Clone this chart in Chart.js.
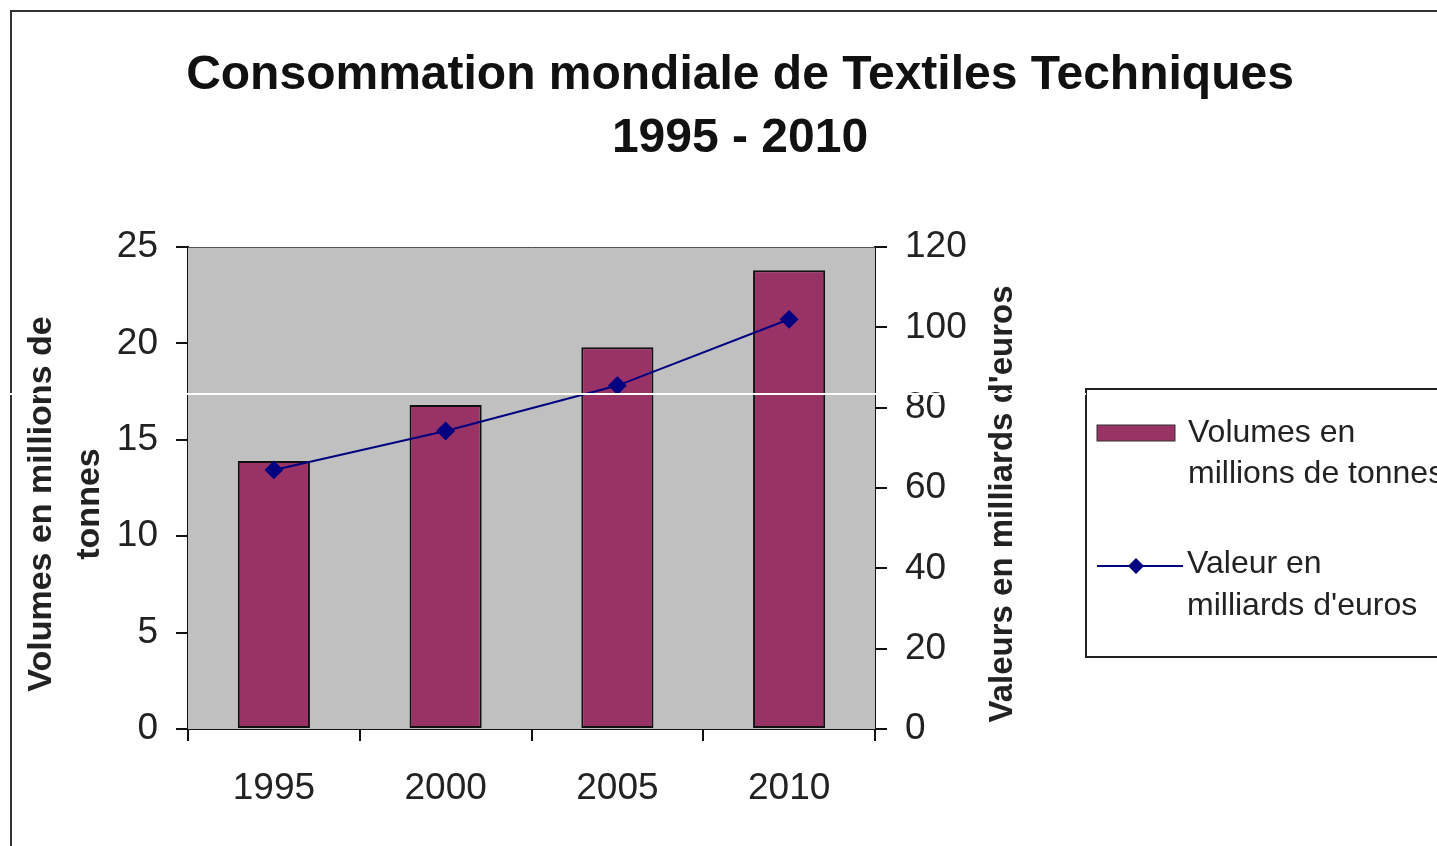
<!DOCTYPE html>
<html>
<head>
<meta charset="utf-8">
<script src="https://cdn.jsdelivr.net/npm/chart.js@4.4.1/dist/chart.umd.min.js"></script>
<style>
  html, body { margin: 0; padding: 0; background: #fff; overflow: hidden; }
  #wrap { position: relative; width: 1437px; height: 846px; }
</style>
</head>
<body>
<div id="wrap"><canvas id="myChart" width="1437" height="846"></canvas></div>
<script>
const years = ['1995', '2000', '2005', '2010'];
const volumes = [13.9, 16.8, 19.8, 23.8];       // millions de tonnes
const valeurs = [64.5, 74.2, 85.5, 102];        // milliards d'euros
const leftTicks = [0, 5, 10, 15, 20, 25];
const rightTicks = [0, 20, 40, 60, 80, 100, 120];
const titleLines = ['Consommation mondiale de Textiles Techniques', '1995 - 2010'];
const leftTitle = ['Volumes en millions de', 'tonnes'];
const rightTitle = "Valeurs en milliards d'euros";

const FONT = '"Liberation Sans", Arial, sans-serif';
const BAR_COLOR = '#993366';
const LINE_COLOR = '#000080';

// fond gris de la zone de tracé, titres, cadre et légende
const decor = {
    id: 'decor',
    beforeDatasetsDraw(chart) {
        const {ctx, chartArea: a} = chart;
        ctx.save();
        ctx.fillStyle = '#c0c0c0';
        ctx.fillRect(a.left, a.top, a.right - a.left, a.bottom - a.top);
        ctx.strokeStyle = '#555';
        ctx.lineWidth = 1;
        ctx.beginPath();
        ctx.moveTo(a.left, a.top + 0.5);
        ctx.lineTo(a.right, a.top + 0.5);
        ctx.stroke();
        ctx.restore();
    },
    afterDraw(chart) {
        const {ctx, chartArea: a} = chart;
        const midY = (a.top + a.bottom) / 2 + 16;
        ctx.save();
        // cadre extérieur
        ctx.strokeStyle = '#333';
        ctx.lineWidth = 2;
        ctx.strokeRect(11, 11, 1600, 1000);

        // titre principal
        ctx.fillStyle = '#111';
        ctx.font = 'bold 48px ' + FONT;
        ctx.textAlign = 'center';
        ctx.textBaseline = 'middle';
        titleLines.forEach((t, i) => ctx.fillText(t, 740, 76 + i * 63));

        // titres des axes (lus de bas en haut)
        ctx.fillStyle = '#222';
        ctx.font = 'bold 34px ' + FONT;
        leftTitle.forEach((t, i) => {
            ctx.save();
            ctx.translate(42 + i * 48, midY);
            ctx.rotate(-Math.PI / 2);
            ctx.fillText(t, 0, 0);
            ctx.restore();
        });
        const y1 = chart.scales.y1;
        ctx.font = 'bold 33px ' + FONT;
        ctx.translate(y1.right - 22, midY);
        ctx.rotate(-Math.PI / 2);
        ctx.fillText(rightTitle, 0, 0);
        ctx.restore();

        // légende
        ctx.save();
        const lx = 1086, ly = 389;
        ctx.strokeStyle = '#222';
        ctx.lineWidth = 2;
        ctx.strokeRect(lx, ly, 500, 268);
        ctx.font = '32px ' + FONT;
        ctx.textAlign = 'left';
        ctx.textBaseline = 'middle';
        const ds = chart.data.datasets;
        // barres
        ctx.fillStyle = ds[1].backgroundColor;
        ctx.fillRect(lx + 11, ly + 36, 78, 16);
        ctx.strokeStyle = '#333';
        ctx.lineWidth = 1;
        ctx.strokeRect(lx + 11, ly + 36, 78, 16);
        ctx.fillStyle = '#222';
        ds[1].label.forEach((t, i) => ctx.fillText(t, lx + 102, ly + 44 + i * 41));
        // ligne
        ctx.strokeStyle = ds[0].borderColor;
        ctx.lineWidth = 2;
        ctx.beginPath();
        ctx.moveTo(lx + 11, ly + 177);
        ctx.lineTo(lx + 97, ly + 177);
        ctx.stroke();
        ctx.fillStyle = ds[0].pointBackgroundColor;
        ctx.beginPath();
        ctx.moveTo(lx + 50, ly + 169);
        ctx.lineTo(lx + 58, ly + 177);
        ctx.lineTo(lx + 50, ly + 185);
        ctx.lineTo(lx + 42, ly + 177);
        ctx.closePath();
        ctx.fill();
        ctx.fillStyle = '#222';
        ds[0].label.forEach((t, i) => ctx.fillText(t, lx + 101, ly + 175 + i * 42));

        // trait blanc du scan
        ctx.strokeStyle = '#fff';
        ctx.lineWidth = 2;
        ctx.beginPath();
        ctx.moveTo(0, 394);
        ctx.lineTo(lx, 394);
        ctx.stroke();
        ctx.restore();
    }
};

const ctx = document.getElementById('myChart').getContext('2d');
const myChart = new Chart(ctx, {
    type: 'bar',
    data: {
        labels: years,
        datasets: [
            {
                type: 'line',
                label: ['Valeur en', "milliards d'euros"],
                data: valeurs,
                yAxisID: 'y1',
                borderColor: LINE_COLOR,
                borderWidth: 2,
                pointStyle: 'rectRot',
                pointRadius: 8,
                pointBackgroundColor: LINE_COLOR,
                pointBorderColor: LINE_COLOR,
                tension: 0,
                order: 0
            },
            {
                type: 'bar',
                label: ['Volumes en', 'millions de tonnes'],
                data: volumes,
                yAxisID: 'y',
                backgroundColor: BAR_COLOR,
                borderColor: '#111',
                borderWidth: 2,
                borderSkipped: false,
                categoryPercentage: 1,
                barPercentage: 0.42,
                order: 1
            }
        ]
    },
    options: {
        responsive: false,
        animation: false,
        layout: { padding: { top: 247, left: 10, right: 412, bottom: 0 } },
        plugins: {
            legend: { display: false },
            tooltip: { enabled: false },
            title: { display: false }
        },
        scales: {
            x: {
                offset: true,
                grid: { offset: true, drawOnChartArea: false, tickLength: 12, color: '#111', lineWidth: 2 },
                border: { display: true, color: '#111', width: 2 },
                ticks: { color: '#222', padding: 26, font: { family: FONT, size: 37 } },
                afterFit(scale) { scale.height = 117; }
            },
            y: {
                position: 'left',
                min: leftTicks[0],
                max: leftTicks[leftTicks.length - 1],
                ticks: { stepSize: leftTicks[1] - leftTicks[0], color: '#222', padding: 18, font: { family: FONT, size: 37 } },
                grid: { drawOnChartArea: false, tickLength: 12, color: '#111', lineWidth: 2 },
                border: { display: true, color: '#111', width: 2 },
                afterFit(scale) { scale.width = 178; }
            },
            y1: {
                position: 'right',
                min: rightTicks[0],
                max: rightTicks[rightTicks.length - 1],
                ticks: { stepSize: rightTicks[1] - rightTicks[0], color: '#222', padding: 18, font: { family: FONT, size: 37 } },
                grid: { drawOnChartArea: false, tickLength: 12, color: '#111', lineWidth: 2 },
                border: { display: true, color: '#111', width: 2 },
                afterFit(scale) { scale.width = 150; }
            }
        }
    },
    plugins: [decor]
});
</script>
</body>
</html>
